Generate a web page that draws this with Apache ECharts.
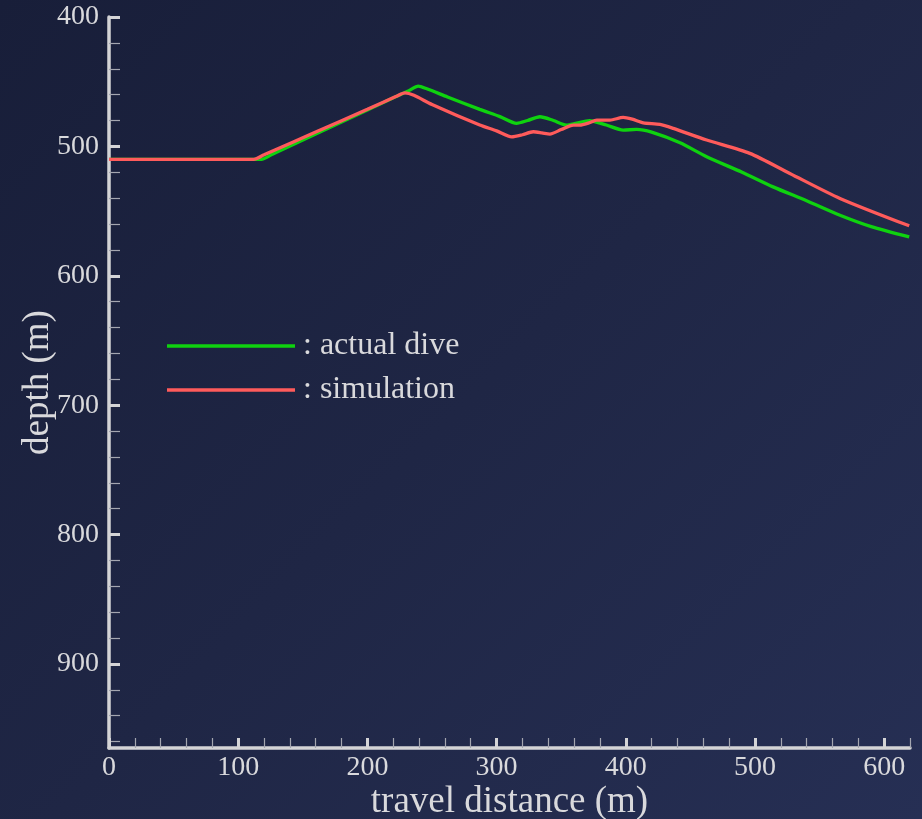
<!DOCTYPE html>
<html>
<head>
<meta charset="utf-8">
<script src="https://cdn.jsdelivr.net/npm/echarts@6/dist/echarts.min.js"></script>
<style>
html,body{margin:0;padding:0;}
#chart{width:922px;height:819px;background:linear-gradient(135deg,#181e39 0%,#1f2645 50%,#262f54 100%);}
</style>
</head>
<body>
<div id="chart"></div>
<script>
// ---- data ----
const seriesNames = ['actual dive', 'simulation'];
const actualX = [0, 60, 108, 118, 126, 160, 200, 232, 239.4, 246, 262, 287, 302.6, 315.5, 324, 333.6, 344, 354, 362, 372, 385, 398, 408.4, 420, 442, 462.6, 490, 514, 540, 565.8, 590, 619.4];
const actualY = [510, 510, 510, 510, 506.3, 490.4, 471.8, 457, 453.4, 455.5, 461.8, 471.4, 477, 482.2, 480, 477.1, 480, 483.5, 482, 480.2, 483.5, 487.4, 486.9, 489, 497.2, 508, 520, 531.3, 542, 553.2, 562, 570];
const simX = [0, 60, 102, 112, 120, 160, 200, 222, 229, 236, 250, 287, 300, 311.7, 320, 328.4, 335, 341.3, 350, 359.4, 364.6, 371, 377.5, 387.8, 398, 405, 413.6, 426.5, 436.8, 462.6, 496, 527, 565.8, 619.4];
const simY = [510, 510, 510, 510, 506.5, 488.9, 471.3, 461.5, 458.6, 460.5, 467.6, 483.5, 488, 492.6, 491, 488.7, 489.5, 490.5, 487, 483.5, 483.5, 482, 479.7, 479.7, 477.6, 479, 481.8, 483, 486.1, 495.1, 505.4, 520.9, 540.2, 561.4];
const xMajorTicks = [0, 100, 200, 300, 400, 500, 600];
const xMinorTicks = [20, 40, 60, 80, 120, 140, 160, 180, 220, 240, 260, 280, 320, 340, 360, 380, 420, 440, 460, 480, 520, 540, 560, 580, 620];
const yMajorTicks = [400, 500, 600, 700, 800, 900];
const yMinorTicks = [420, 440, 460, 480, 520, 540, 560, 580, 620, 640, 660, 680, 720, 740, 760, 780, 820, 840, 860, 880, 920, 940, 960];
const xName = 'travel distance (m)';
const yName = 'depth (m)';

const pair = (xs, ys) => xs.map((x, i) => [x, ys[i]]);
const FONT = '"Liberation Serif", "DejaVu Serif", serif';
const TXT = '#d9d9dc';

const chart = echarts.init(document.getElementById('chart'), null, {renderer: 'canvas'});
chart.setOption({
  backgroundColor: 'transparent',
  animation: false,
  grid: {left: 109, right: 12, top: 17, bottom: 71, outerBoundsMode: 'none', containLabel: false},
  legend: {
    orient: 'vertical',
    left: 167,
    top: 330,
    padding: 0,
    itemWidth: 128,
    itemHeight: 3.5,
    itemGap: 12,
    icon: 'rect',
    formatter: n => ': ' + n,
    textStyle: {color: TXT, fontFamily: FONT, fontSize: 32, padding: [0, 0, 0, 3]},
    data: seriesNames
  },
  xAxis: [{
    type: 'value', min: 0, max: 620, position: 'bottom',
    name: xName, nameLocation: 'middle', nameGap: 36, nameMoveOverlap: false,
    nameTextStyle: {color: TXT, fontFamily: FONT, fontSize: 37, verticalAlign: 'top'},
    axisLine: {show: true, lineStyle: {color: '#d4d4d6', width: 3.5}},
    axisTick: {show: true, inside: true, length: 10, customValues: xMajorTicks, lineStyle: {color: '#d4d4d6', width: 3}},
    axisLabel: {customValues: xMajorTicks, color: TXT, fontFamily: FONT, fontSize: 28, margin: 6},
    splitLine: {show: false}
  }, {
    type: 'value', min: 0, max: 620, position: 'bottom',
    axisLine: {show: false},
    axisTick: {show: true, inside: true, length: 10, customValues: xMinorTicks, lineStyle: {color: '#a4a6b0', width: 1.2}},
    axisLabel: {show: false},
    splitLine: {show: false}
  }],
  yAxis: [{
    type: 'value', min: 400, max: 965, inverse: true, position: 'left',
    name: yName, nameLocation: 'middle', nameGap: 52, nameRotate: 90, nameMoveOverlap: false,
    nameTextStyle: {color: TXT, fontFamily: FONT, fontSize: 37},
    axisLine: {show: true, lineStyle: {color: '#d4d4d6', width: 3.5}},
    axisTick: {show: true, inside: true, length: 11, customValues: yMajorTicks, lineStyle: {color: '#d4d4d6', width: 3}},
    axisLabel: {customValues: yMajorTicks, color: TXT, fontFamily: FONT, fontSize: 28, margin: 10},
    splitLine: {show: false}
  }, {
    type: 'value', min: 400, max: 965, inverse: true, position: 'left',
    axisLine: {show: false},
    axisTick: {show: true, inside: true, length: 11, customValues: yMinorTicks, lineStyle: {color: '#a4a6b0', width: 1.2}},
    axisLabel: {show: false},
    splitLine: {show: false}
  }],
  series: [{
    name: seriesNames[0], type: 'line', xAxisIndex: 0, yAxisIndex: 0,
    data: pair(actualX, actualY), smooth: 0.25, showSymbol: false,
    lineStyle: {color: '#0fd20f', width: 3.3}, itemStyle: {color: '#0fd20f'}
  }, {
    name: seriesNames[1], type: 'line', xAxisIndex: 0, yAxisIndex: 0,
    data: pair(simX, simY), smooth: 0.25, showSymbol: false,
    lineStyle: {color: '#ff5b5b', width: 3.3}, itemStyle: {color: '#ff5b5b'}
  }]
});
</script>
</body>
</html>
